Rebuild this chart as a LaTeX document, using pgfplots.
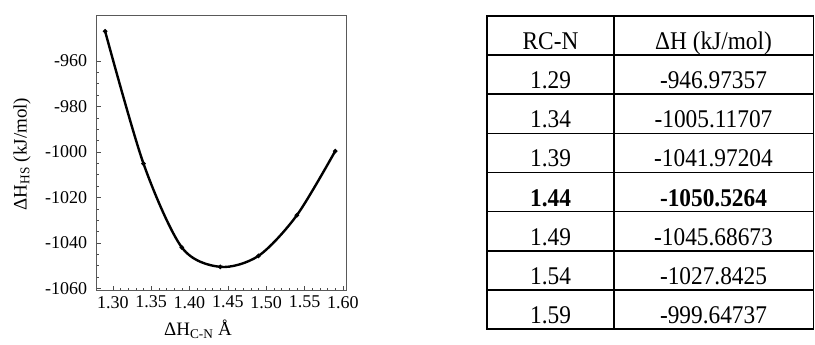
\documentclass[border=0pt]{standalone}
\usepackage{fontspec}
\setmainfont{Liberation Serif}
\newfontfamily\tabfont{Liberation Serif}[FakeStretch=0.915]
\usepackage{pgfplots}
\pgfplotsset{compat=1.18}
\begin{document}
\begin{tikzpicture}[x=1pt,y=1pt]
\useasboundingbox (0,0) rectangle (815,345);
\begin{axis}[
  at={(96.7pt,55pt)}, anchor=south west,
  scale only axis, width=250pt, height=275pt,
  xmin=1.279, xmax=1.605, ymin=-1060.7, ymax=-939.8,
  xtick={1.30,1.35,1.40,1.45,1.50,1.55,1.60},
  ytick={-1060,-1040,-1020,-1000,-980,-960},
  minor x tick num=4, minor y tick num=3,
  tick align=inside, xtick pos=bottom, ytick pos=left,
  axis line style={draw=black!65, line width=0.8pt},
  major tick style={black!70, line width=0.6pt},
  minor tick style={black!70, line width=0.5pt},
  major tick length=4pt, minor tick length=2pt,
  /pgf/number format/assume math mode=true,
  xticklabel style={/pgf/number format/.cd, fixed, fixed zerofill, precision=2},
  yticklabel style={/pgf/number format/.cd, fixed, precision=0, 1000 sep={}},
  tick label style={font=\fontsize{18}{21}\selectfont},
  xticklabel shift=2.5pt, yticklabel shift=6pt,
]
\addplot[black, line width=2.4pt, smooth, mark=*, mark size=0.8pt] coordinates {
  (1.29,-946.97357) (1.34,-1005.11707) (1.39,-1041.97204) (1.44,-1050.5264)
  (1.49,-1045.68673) (1.54,-1027.8425) (1.59,-999.64737)
};
\end{axis}
\node[anchor=base, font=\fontsize{19}{22}\selectfont] at (198,9) {ΔH\textsubscript{C-N} Å};
\node[rotate=90, anchor=center, font=\fontsize{19}{22}\selectfont] at (22,191) {ΔH\textsubscript{HS} (kJ/mol)};
% table
\def\rowh{39.125}
\foreach \k in {0,...,8} {
  \draw[line width=1.6pt] (487,{345-16-\rowh*\k}) -- (813.5,{345-16-\rowh*\k});
}
\draw[line width=1.6pt] (487,{345-16+0.8}) -- (487,{345-329-0.8});
\draw[line width=1.6pt] (614,{345-16+0.8}) -- (614,{345-329-0.8});
\draw[line width=1.6pt] (813.5,{345-16+0.8}) -- (813.5,{345-329-0.8});
\begin{scope}[every node/.style={anchor=base, font=\tabfont\fontsize{25.5}{29}\selectfont, inner sep=0pt}]
\foreach \k/\a/\b in {1/{RC-N}/{ΔH (kJ/mol)}, 2/1.29/-946.97357, 3/1.34/-1005.11707, 4/1.39/-1041.97204,
  5/{\textbf{1.44}}/{\textbf{-1050.5264}}, 6/1.49/-1045.68673, 7/1.54/-1027.8425, 8/1.59/-999.64737} {
  \node at (550.5,{345-16-\rowh*\k+5.5}) {\a};
  \node at (713.5,{345-16-\rowh*\k+5.5}) {\b};
}
\end{scope}
\end{tikzpicture}
\end{document}
